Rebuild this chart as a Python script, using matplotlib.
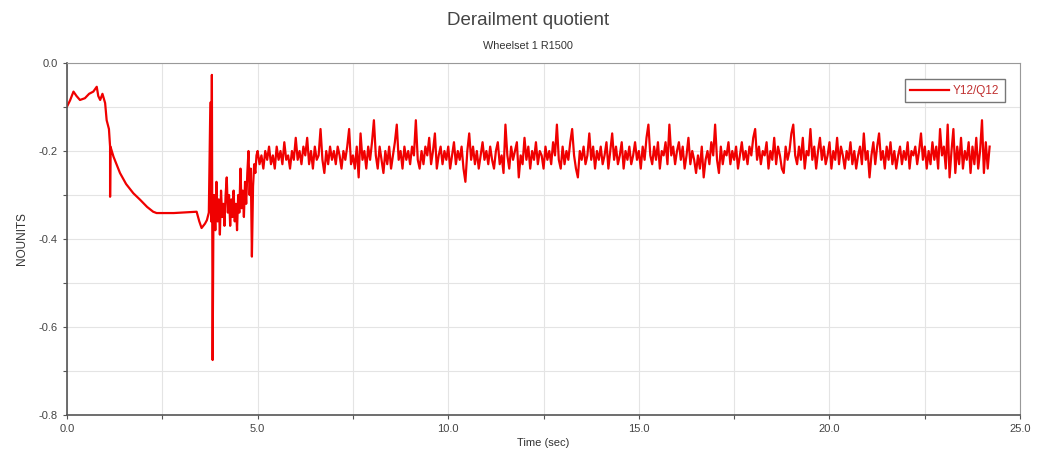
import numpy as np
import matplotlib.pyplot as plt
from matplotlib.ticker import MultipleLocator

plt.rcParams['font.family'] = ['Liberation Sans', 'DejaVu Sans']

# Run-in: flange contact, curve entry and transition (explicit sample times)
entry_t = [0.0, 0.08, 0.17, 0.25, 0.34, 0.47, 0.58, 0.69, 0.78, 0.82,
           0.87, 0.93, 1.0, 1.04, 1.10, 1.13, 1.13, 1.14, 1.22, 1.39,
           1.55, 1.74, 1.92, 2.10, 2.26, 2.35, 2.80, 3.20, 3.40, 3.47,
           3.53, 3.62, 3.67, 3.72, 3.76, 3.78, 3.80, 3.82, 3.84]
entry_q = [-0.099, -0.085, -0.065, -0.075, -0.084, -0.080, -0.070, -0.065, -0.054, -0.075,
           -0.084, -0.070, -0.091, -0.130, -0.150, -0.190, -0.304, -0.190, -0.213, -0.250,
           -0.275, -0.296, -0.311, -0.327, -0.338, -0.341, -0.341, -0.339, -0.338, -0.360,
           -0.375, -0.365, -0.357, -0.340, -0.090, -0.360, -0.027, -0.675, -0.360]

# Switch/transition zone, sampled every 0.03 s from 3.86 s
trans_t0, trans_dt = 3.86, 0.03
trans_q = [-0.30, -0.38, -0.27, -0.36, -0.31, -0.39, -0.29, -0.35, -0.32, -0.37,
           -0.30, -0.26, -0.34, -0.30, -0.37, -0.31, -0.35, -0.29, -0.36, -0.32,
           -0.38, -0.30, -0.34, -0.24, -0.33, -0.29, -0.35, -0.27, -0.32, -0.25,
           -0.20, -0.30, -0.24, -0.44, -0.28, -0.23, -0.25, -0.21]

# Full curve, sampled every 0.05 s from 5.0 s (one row per second)
curve_t0, curve_dt = 5.0, 0.05
curve_q = [
    -0.20, -0.23, -0.21, -0.24, -0.20, -0.22, -0.19, -0.23, -0.21, -0.24, -0.19, -0.22, -0.20, -0.23, -0.18, -0.22, -0.21, -0.24, -0.20, -0.22,
    -0.17, -0.22, -0.20, -0.23, -0.19, -0.21, -0.17, -0.23, -0.20, -0.24, -0.19, -0.22, -0.21, -0.15, -0.22, -0.25, -0.20, -0.23, -0.19, -0.22,
    -0.20, -0.23, -0.19, -0.21, -0.24, -0.20, -0.22, -0.19, -0.15, -0.23, -0.21, -0.24, -0.19, -0.26, -0.16, -0.22, -0.20, -0.24, -0.19, -0.22,
    -0.18, -0.13, -0.21, -0.24, -0.19, -0.22, -0.25, -0.20, -0.23, -0.19, -0.24, -0.21, -0.18, -0.14, -0.22, -0.20, -0.24, -0.19, -0.22, -0.20,
    -0.23, -0.19, -0.21, -0.13, -0.22, -0.24, -0.20, -0.23, -0.19, -0.21, -0.17, -0.23, -0.20, -0.16, -0.24, -0.21, -0.19, -0.23, -0.20, -0.22,
    -0.19, -0.24, -0.21, -0.18, -0.23, -0.20, -0.22, -0.19, -0.24, -0.27, -0.20, -0.16, -0.22, -0.19, -0.23, -0.20, -0.24, -0.21, -0.18, -0.22,
    -0.20, -0.23, -0.19, -0.22, -0.24, -0.20, -0.18, -0.23, -0.21, -0.25, -0.14, -0.21, -0.24, -0.19, -0.22, -0.20, -0.18, -0.26, -0.21, -0.23,
    -0.17, -0.22, -0.19, -0.24, -0.20, -0.22, -0.18, -0.23, -0.20, -0.21, -0.24, -0.19, -0.22, -0.20, -0.23, -0.18, -0.21, -0.14, -0.22, -0.24,
    -0.19, -0.23, -0.20, -0.22, -0.18, -0.15, -0.21, -0.24, -0.26, -0.20, -0.22, -0.19, -0.23, -0.21, -0.16, -0.22, -0.19, -0.24, -0.20, -0.22,
    -0.19, -0.23, -0.21, -0.18, -0.24, -0.20, -0.16, -0.22, -0.19, -0.23, -0.21, -0.18, -0.24, -0.20, -0.22, -0.19, -0.23, -0.21, -0.18, -0.22,
    -0.20, -0.24, -0.19, -0.22, -0.17, -0.14, -0.21, -0.23, -0.19, -0.22, -0.18, -0.24, -0.20, -0.21, -0.18, -0.23, -0.14, -0.21, -0.19, -0.23,
    -0.20, -0.18, -0.22, -0.19, -0.24, -0.21, -0.17, -0.23, -0.20, -0.22, -0.25, -0.21, -0.24, -0.19, -0.26, -0.22, -0.20, -0.23, -0.18, -0.21,
    -0.14, -0.22, -0.25, -0.19, -0.23, -0.20, -0.21, -0.18, -0.23, -0.20, -0.22, -0.19, -0.24, -0.21, -0.18, -0.22, -0.20, -0.23, -0.19, -0.21,
    -0.17, -0.15, -0.22, -0.19, -0.23, -0.20, -0.21, -0.18, -0.24, -0.20, -0.22, -0.17, -0.23, -0.19, -0.21, -0.24, -0.25, -0.19, -0.22, -0.20,
    -0.16, -0.14, -0.21, -0.23, -0.19, -0.22, -0.17, -0.24, -0.20, -0.21, -0.15, -0.22, -0.19, -0.24, -0.20, -0.17, -0.22, -0.19, -0.23, -0.21,
    -0.18, -0.24, -0.20, -0.22, -0.17, -0.23, -0.19, -0.21, -0.24, -0.20, -0.22, -0.18, -0.23, -0.20, -0.24, -0.21, -0.19, -0.23, -0.16, -0.22,
    -0.20, -0.26, -0.21, -0.18, -0.23, -0.19, -0.16, -0.22, -0.20, -0.24, -0.19, -0.22, -0.18, -0.23, -0.20, -0.24, -0.21, -0.19, -0.23, -0.20,
    -0.22, -0.18, -0.24, -0.20, -0.21, -0.19, -0.23, -0.20, -0.16, -0.22, -0.19, -0.24, -0.20, -0.23, -0.18, -0.22, -0.19, -0.24, -0.15, -0.21,
    -0.19, -0.24, -0.14, -0.26, -0.20, -0.15, -0.25, -0.19, -0.23, -0.17, -0.24, -0.20, -0.22, -0.18, -0.25, -0.19, -0.23, -0.17, -0.24, -0.20,
    -0.13, -0.25, -0.18, -0.24, -0.19,
]

t = np.concatenate([
    entry_t,
    trans_t0 + trans_dt * np.arange(len(trans_q)),
    curve_t0 + curve_dt * np.arange(len(curve_q)),
])
q = np.concatenate([entry_q, trans_q, curve_q])

fig = plt.figure(figsize=(10.42, 4.65), dpi=100)
ax = fig.add_axes([0.0643, 0.1075, 0.9147, 0.757])

ax.plot(t, q, color='#f00000', lw=1.6, label='Y12/Q12')

ax.set_xlim(0, 25)
ax.set_ylim(-0.8, 0.0)
ax.xaxis.set_major_locator(MultipleLocator(5))
ax.xaxis.set_minor_locator(MultipleLocator(2.5))
ax.yaxis.set_major_locator(MultipleLocator(0.2))
ax.yaxis.set_minor_locator(MultipleLocator(0.1))
ax.xaxis.set_major_formatter(lambda v, pos: f'{v:.1f}')
ax.yaxis.set_major_formatter(lambda v, pos: f'{v:.1f}' if abs(v) > 1e-9 else '0.0')
ax.grid(True, which='both', color='#e4e4e4', lw=0.8)
ax.set_axisbelow(True)

ax.tick_params(which='both', direction='out', length=3, width=0.8,
               colors='#555555', labelsize=8, labelcolor='#444444')
for side in ['top', 'right']:
    ax.spines[side].set_color('#999999')
for side in ['left', 'bottom']:
    ax.spines[side].set_color('#555555')
    ax.spines[side].set_linewidth(1.2)

ax.set_xlabel('Time (sec)', fontsize=8, color='#333333', labelpad=3)
ax.set_ylabel('NOUNITS', fontsize=8.5, color='#333333', labelpad=8)

fig.text(0.507, 0.955, 'Derailment quotient', ha='center', va='center',
         fontsize=13.5, color='#444444')
fig.text(0.507, 0.902, 'Wheelset 1 R1500', ha='center', va='center',
         fontsize=7.8, color='#333333')

leg = ax.legend(loc='upper right', bbox_to_anchor=(0.99, 0.97), fontsize=8.5,
                fancybox=False, framealpha=1, edgecolor='#777777',
                handlelength=3.3, borderpad=0.45, handletextpad=0.3)
for txt in leg.get_texts():
    txt.set_color('#c03030')

fig.savefig('out.png', dpi=100)
